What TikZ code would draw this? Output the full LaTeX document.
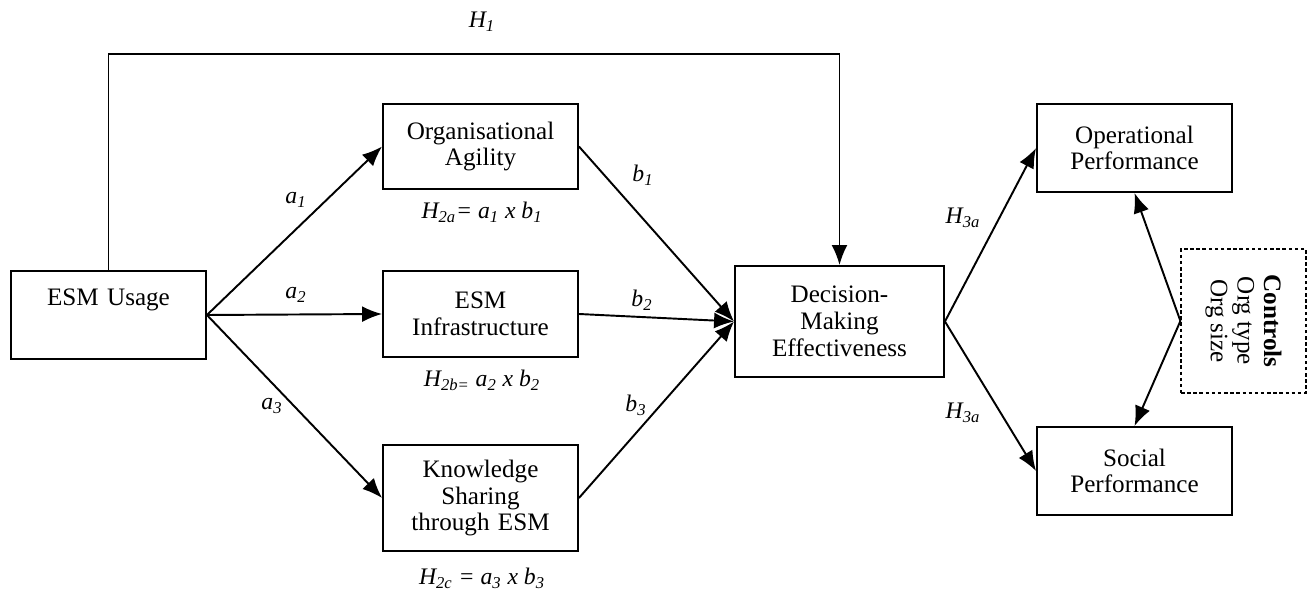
\documentclass[tikz,border=0pt]{standalone}
\usepackage{fontspec}
\setmainfont{Liberation Serif}
\usetikzlibrary{arrows.meta}
\newcommand\boxfont{\fontsize{14.3}{15.2}\selectfont}
\newcommand\labfont{\fontsize{13.5}{15}\selectfont\itshape}
\begin{document}
\begin{tikzpicture}[x=0.02cm,y=-0.02cm,
  box/.style={draw, line width=1.1pt, inner sep=0pt, align=center, font=\boxfont, text width=3.8cm},
  conn/.style={line width=1.1pt, -{Latex[length=4mm,width=3.2mm]}},
  lab/.style={font=\labfont, inner sep=0pt}]
\useasboundingbox (0,0) rectangle (1308,590);
% boxes
\node[box, minimum width=3.9cm, minimum height=1.76cm] (esm) at (108.5,315) {ESM Usage\\\strut};
\node[box, minimum width=3.9cm, minimum height=1.7cm] (oa) at (480.5,146.5) {Organisational\\Agility};
\node[box, minimum width=3.9cm, minimum height=1.72cm] (infra) at (480.5,314) {ESM\\Infrastructure};
\node[box, minimum width=3.9cm, minimum height=2.12cm] (ks) at (480.5,498) {Knowledge\\Sharing\\through ESM};
\node[box, minimum width=4.18cm, minimum height=2.22cm] (dme) at (839.5,321.5) {Decision-\\Making\\Effectiveness};
\node[box, minimum width=3.9cm, minimum height=1.76cm] (op) at (1134.5,148) {Operational\\Performance};
\node[box, minimum width=3.9cm, minimum height=1.76cm] (sp) at (1134.5,471) {Social\\Performance};
\node[draw, line width=0.7pt, dash pattern=on 2pt off 1.5pt, minimum width=2.5cm, minimum height=2.88cm, inner sep=0pt] (ctrl) at (1243.5,321) {};
\node[rotate=-90, align=center, font=\boxfont, inner sep=0pt] (ctrltxt) at (ctrl.center) {\textbf{Controls}\\Org type\\Org size};
% H1 path
\coordinate (h1y) at (0,54);
\draw[conn] (esm.north) -- (esm.north |- h1y) -- (dme.north |- h1y) -- (dme.north);
% a paths
\draw[conn] (esm.east) -- (oa.west);
\draw[conn] (esm.east) -- (infra.west);
\draw[conn] (esm.east) -- (ks.west);
% b paths
\draw[conn] (oa.east) -- (dme.west);
\draw[conn] (infra.east) -- (dme.west);
\draw[conn] (ks.east) -- (dme.west);
% H3 paths
\draw[conn] (dme.east) -- (op.west);
\draw[conn] (dme.east) -- (sp.west);
% controls
\draw[conn] (ctrl.west) -- (op.south);
\draw[conn] (ctrl.west) -- (sp.north);
% labels
\node[lab] (lh1) at (482,22) {H\textsubscript{1}};
\node[lab] (la1) at (296,200) {a\textsubscript{1}};
\node[lab] (la2) at (296,295) {a\textsubscript{2}};
\node[lab] (la3) at (272,406) {a\textsubscript{3}};
\node[lab] (lb1) at (643,175) {b\textsubscript{1}};
\node[lab] (lb2) at (642,300) {b\textsubscript{2}};
\node[lab] (lb3) at (636,405) {b\textsubscript{3}};
\node[lab] (lh2a) at (482,212) {H\textsubscript{2a}= a\textsubscript{1} x b\textsubscript{1}};
\node[lab] (lh2b) at (482,380) {H\textsubscript{2b=} a\textsubscript{2} x b\textsubscript{2}};
\node[lab] (lh2c) at (482,578) {H\textsubscript{2c} = a\textsubscript{3} x b\textsubscript{3}};
\node[lab] (lh3a) at (963,218) {H\textsubscript{3a}};
\node[lab] (lh3b) at (963,413) {H\textsubscript{3a}};
\end{tikzpicture}
\end{document}
